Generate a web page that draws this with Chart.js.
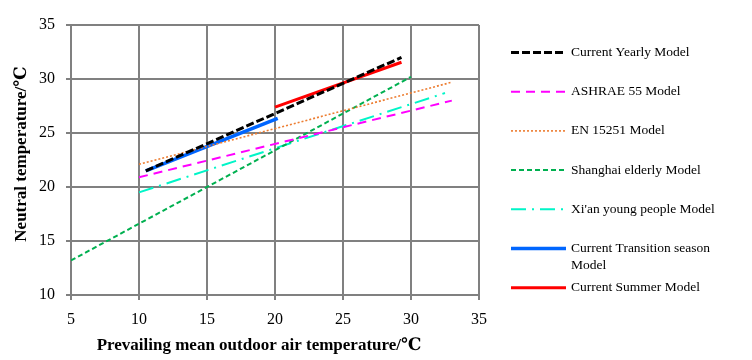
<!DOCTYPE html>
<html>
<head>
<meta charset="utf-8">
<script src="https://cdn.jsdelivr.net/npm/chart.js@4.4.0/dist/chart.umd.min.js"></script>
<style>
html,body{margin:0;padding:0;background:#fff;}
#wrap{width:752px;height:360px;position:relative;}
</style>
</head>
<body>
<div id="wrap"><canvas id="c" width="752" height="360"></canvas></div>
<script>
// ---- data ----
const seriesNames = [
  "Current Yearly Model",
  "ASHRAE 55 Model",
  "EN 15251 Model",
  "Shanghai elderly Model",
  "Xi'an young people Model",
  "Current Transition season Model",
  "Current Summer Model"
];
const yearlyX = [10.5, 29.3];       const yearlyY = [21.5, 32.0];
const ashraeX = [10, 33];           const ashraeY = [20.9, 28.0];
const enX = [10, 33];               const enY = [22.1, 29.7];
const shanghaiX = [5, 30];          const shanghaiY = [13.2, 30.2];
const xianX = [10, 32.5];           const xianY = [19.5, 28.7];
const transitionX = [10.5, 20.2];   const transitionY = [21.5, 26.35];
const summerX = [20, 29.3];         const summerY = [27.4, 31.55];
const xTicks = [5, 10, 15, 20, 25, 30, 35];
const yTicks = [10, 15, 20, 25, 30, 35];
const xTitle = "Prevailing mean outdoor air temperature/℃";
const yTitle = "Neutral temperature/℃";

function pts(xs, ys){ return xs.map((x,i)=>({x:x, y:ys[i]})); }

const styles = [
  {color:"#000000", width:3,   dash:[8,3]},
  {color:"#FF00FF", width:2,   dash:[9,6]},
  {color:"#ED7D31", width:1.6, dash:[2,2]},
  {color:"#00B050", width:2,   dash:[5,3]},
  {color:"#00F5C8", width:2,   dash:[15,6,2,6]},
  {color:"#0066FF", width:3.5, dash:[]},
  {color:"#FF0000", width:3,   dash:[]}
];
const seriesData = [
  pts(yearlyX, yearlyY), pts(ashraeX, ashraeY), pts(enX, enY),
  pts(shanghaiX, shanghaiY), pts(xianX, xianY),
  pts(transitionX, transitionY), pts(summerX, summerY)
];

const datasets = seriesNames.map((n,i)=>({
  label: n,
  data: seriesData[i],
  showLine: true,
  borderColor: styles[i].color,
  backgroundColor: styles[i].color,
  borderWidth: styles[i].width,
  borderDash: styles[i].dash,
  borderCapStyle: 'butt',
  pointRadius: 0,
  pointHoverRadius: 0,
  fill: false,
  tension: 0
}));

const FONT = "'Liberation Serif', 'DejaVu Serif', serif";

const decor = {
  id: 'decor',
  afterDraw(chart){
    const ctx = chart.ctx;
    const ca = chart.chartArea;
    ctx.save();
    // axis titles
    ctx.fillStyle = '#000';
    ctx.font = "bold 17px " + FONT;
    ctx.textAlign = 'center';
    ctx.textBaseline = 'middle';
    ctx.fillText(xTitle, (ca.left + ca.right)/2 - 16, ca.bottom + 51);
    ctx.save();
    ctx.translate(22, (ca.top + ca.bottom)/2 - 6);
    ctx.rotate(-Math.PI/2);
    ctx.fillText(yTitle, 0, 0);
    ctx.restore();
    // legend
    const lx0 = 511, lx1 = 566, tx = 571;
    let y = 52.5;
    const step = 39.2;
    ctx.font = "13.5px " + FONT;
    ctx.textAlign = 'left';
    chart.data.datasets.forEach((ds, i)=>{
      ctx.save();
      ctx.strokeStyle = ds.borderColor;
      ctx.lineWidth = ds.borderWidth;
      ctx.setLineDash(ds.borderDash);
      ctx.lineCap = 'butt';
      ctx.beginPath();
      ctx.moveTo(lx0, y);
      ctx.lineTo(lx1, y);
      ctx.stroke();
      ctx.restore();
      ctx.fillStyle = '#000';
      const label = ds.label;
      if (ctx.measureText(label).width > 752 - tx - 12) {
        const words = label.split(' ');
        const last = words.pop();
        ctx.fillText(words.join(' '), tx, y);
        ctx.fillText(last, tx, y + 16.7);
      } else {
        ctx.fillText(label, tx, y);
      }
      y += step;
    });
    ctx.restore();
  }
};

new Chart(document.getElementById('c'), {
  type: 'scatter',
  data: { datasets: datasets },
  options: {
    responsive: false,
    animation: false,
    events: [],
    layout: { padding: { top: 25, right: 273, left: 0, bottom: 0 } },
    plugins: { legend: { display: false }, tooltip: { enabled: false } },
    scales: {
      x: {
        type: 'linear',
        min: 5, max: 35,
        afterFit(s){ s.height = 65; },
        afterBuildTicks(s){ s.ticks = xTicks.map(v=>({value:v})); },
        grid: { color: '#808080', lineWidth: 2, tickLength: 5, tickColor: '#808080', drawTicks: true },
        border: { color: '#808080', width: 2 },
        ticks: { color: '#000', font: { family: FONT, size: 16 }, padding: 10, maxRotation: 0 }
      },
      y: {
        type: 'linear',
        min: 10, max: 35,
        afterFit(s){ s.width = 71; },
        afterBuildTicks(s){ s.ticks = yTicks.map(v=>({value:v})); },
        grid: { color: '#808080', lineWidth: 2, tickLength: 5, tickColor: '#808080', drawTicks: true },
        border: { color: '#808080', width: 2 },
        ticks: { color: '#000', font: { family: FONT, size: 16 }, padding: 11 }
      }
    }
  },
  plugins: [decor]
});
</script>
</body>
</html>
